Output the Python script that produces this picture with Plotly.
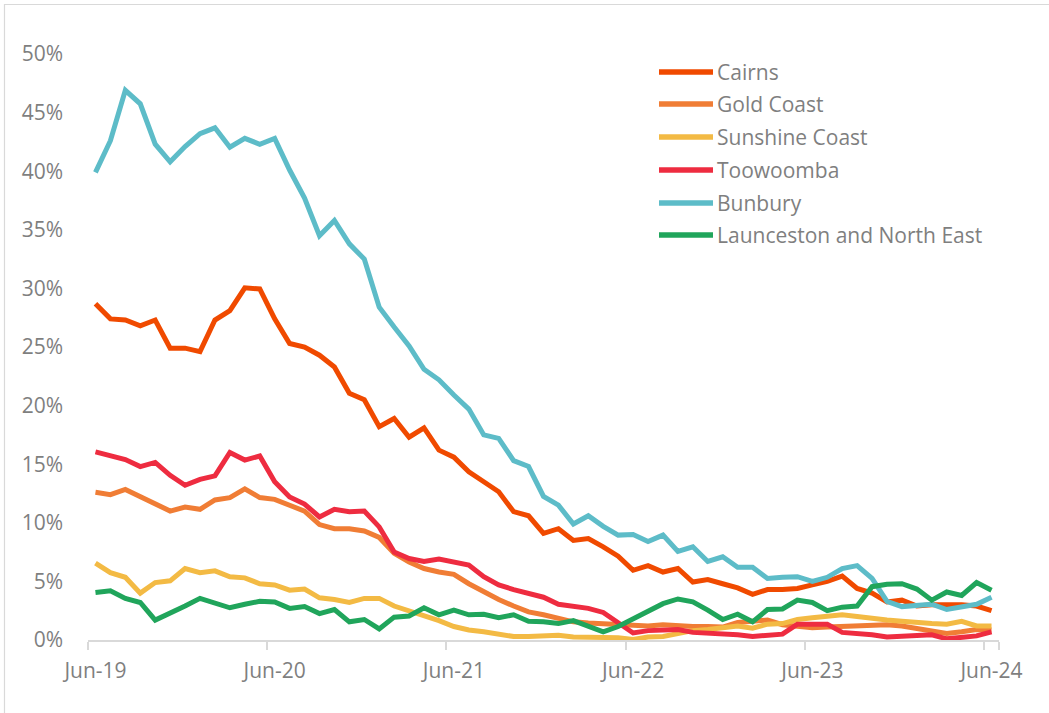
import pandas as pd
import plotly.graph_objects as go

# Monthly periods, Jun-2019 to Jun-2024
months = pd.date_range("2019-06-01", "2024-06-01", freq="MS").strftime("%b-%y").tolist()
tick_labels = ["Jun-19", "Jun-20", "Jun-21", "Jun-22", "Jun-23", "Jun-24"]
y_ticks = [0, 5, 10, 15, 20, 25, 30, 35, 40, 45, 50]

cairns = [28.7, 27.4, 27.3, 26.8, 27.3, 24.9, 24.9, 24.6, 27.3, 28.1,
          30.05, 29.95, 27.4, 25.3, 25.0, 24.3, 23.3, 21.05, 20.5, 18.2,
          18.9, 17.3, 18.1, 16.2, 15.6, 14.35, 13.5, 12.65, 10.95, 10.6,
          9.1, 9.5, 8.5, 8.65, 7.95, 7.15, 5.95, 6.35, 5.8, 6.1,
          4.95, 5.15, 4.8, 4.45, 3.9, 4.3, 4.3, 4.4, 4.7, 5.0,
          5.45, 4.4, 4.0, 3.25, 3.4, 2.9, 3.0, 3.05, 3.0, 2.9, 2.5]

gold_coast = [12.6, 12.4, 12.85, 12.2, 11.65, 11.0, 11.35, 11.15, 11.95, 12.15,
              12.9, 12.15, 12.0, 11.5, 11.0, 9.85, 9.5, 9.5, 9.3, 8.75,
              7.4, 6.65, 6.1, 5.8, 5.6, 4.8, 4.1, 3.45, 2.9, 2.4,
              2.15, 1.9, 1.55, 1.45, 1.4, 1.35, 1.3, 1.2, 1.3, 1.2,
              1.15, 1.15, 1.1, 1.5, 1.55, 1.7, 1.3, 1.15, 1.05, 1.1,
              1.15, 1.2, 1.2, 1.3, 1.2, 1.0, 0.75, 0.55, 0.7, 0.9, 0.85]

sunshine_coast = [6.55, 5.75, 5.35, 4.0, 4.9, 5.05, 6.1, 5.75, 5.9, 5.4,
                  5.3, 4.8, 4.7, 4.25, 4.35, 3.6, 3.45, 3.2, 3.55, 3.55,
                  2.9, 2.5, 2.0, 1.65, 1.15, 0.85, 0.7, 0.55, 0.3, 0.3,
                  0.35, 0.4, 0.25, 0.25, 0.15, 0.2, 0.05, 0.25, 0.3, 0.55,
                  0.8, 0.9, 1.0, 1.2, 1.0, 1.35, 1.4, 1.75, 1.9, 2.0,
                  2.15, 2.0, 1.8, 1.7, 1.6, 1.45, 1.4, 1.35, 1.6, 1.2, 1.2]

toowoomba = [16.05, 15.7, 15.4, 14.8, 15.15, 14.05, 13.2, 13.7, 14.0, 16.0,
             15.35, 15.7, 13.5, 12.2, 11.6, 10.5, 11.15, 10.95, 11.0, 9.65,
             7.5, 6.95, 6.7, 6.9, 6.65, 6.4, 5.4, 4.7, 4.3, 4.0,
             3.65, 3.05, 2.85, 2.7, 2.35, 1.5, 0.6, 0.8, 0.85, 0.9,
             0.65, 0.6, 0.5, 0.45, 0.3, 0.4, 0.5, 1.35, 1.35, 1.35,
             0.65, 0.6, 0.45, 0.25, 0.35, 0.4, 0.45, 0.1, 0.2, 0.35, 0.7]

bunbury = [39.9, 42.6, 46.9, 45.75, 42.3, 40.8, 42.1, 43.2, 43.7, 42.05,
           42.8, 42.3, 42.8, 40.1, 37.7, 34.5, 35.8, 33.8, 32.5, 28.4,
           26.7, 25.1, 23.1, 22.2, 20.9, 19.7, 17.5, 17.2, 15.3, 14.8,
           12.25, 11.5, 9.9, 10.6, 9.7, 8.95, 9.0, 8.4, 8.95, 7.55,
           7.95, 6.7, 7.1, 6.2, 6.2, 5.25, 5.35, 5.4, 5.0, 5.35,
           6.1, 6.35, 5.25, 3.3, 2.85, 3.0, 3.05, 2.6, 2.8, 3.05, 3.65]

launceston = [4.05, 4.2, 3.55, 3.2, 1.7, 2.25, 2.9, 3.55, 3.2, 2.75,
              3.05, 3.3, 3.25, 2.7, 2.85, 2.25, 2.6, 1.55, 1.75, 0.95,
              1.95, 2.05, 2.75, 2.15, 2.55, 2.15, 2.2, 1.9, 2.15, 1.6,
              1.55, 1.4, 1.65, 1.15, 0.7, 1.15, 1.8, 2.5, 3.1, 3.5,
              3.25, 2.55, 1.75, 2.2, 1.55, 2.6, 2.65, 3.4, 3.2, 2.5,
              2.8, 2.9, 4.55, 4.75, 4.8, 4.35, 3.4, 4.1, 3.8, 4.9, 4.25]

series = [
    ("Cairns", cairns, "#F04A00"),
    ("Gold Coast", gold_coast, "#F07D35"),
    ("Sunshine Coast", sunshine_coast, "#F3BA44"),
    ("Toowoomba", toowoomba, "#EE2C40"),
    ("Bunbury", bunbury, "#5DBCC8"),
    ("Launceston and North East", launceston, "#20A55B"),
]

W, H = 1049, 713
ML, MR, MT, MB = 88, 50, 54, 73
FONT = "Open Sans, Lato, sans-serif"
FS = 21
TEXT = "#7f7f7f"
GRID = "#d9d9d9"


def px_x(px):
    return (px - ML) / (W - ML - MR)


def px_y(py):
    return (H - MB - py) / (H - MT - MB)


fig = go.Figure()
for name, vals, color in series:
    fig.add_trace(go.Scatter(
        x=months, y=vals, name=name, mode="lines",
        line=dict(color=color, width=5),
        showlegend=False,
    ))

# Legend drawn as line samples with text labels
legend_rows = [72, 104, 137, 170, 203, 235]
shapes = []
annotations = []
for (name, _, color), row in zip(series, legend_rows):
    shapes.append(dict(type="line", xref="paper", yref="paper",
                       x0=px_x(659), x1=px_x(713), y0=px_y(row), y1=px_y(row),
                       line=dict(color=color, width=5.5)))
    annotations.append(dict(text=name, xref="paper", yref="paper",
                            x=px_x(715), y=px_y(row), xanchor="left", yanchor="middle",
                            showarrow=False, font=dict(family=FONT, size=FS, color=TEXT)))

# Outer chart border
shapes.append(dict(type="rect", xref="paper", yref="paper", layer="below",
                   x0=px_x(4.5), x1=px_x(W + 10), y0=px_y(H + 10), y1=px_y(4.5),
                   line=dict(color=GRID, width=1.2), fillcolor="rgba(0,0,0,0)"))

fig.update_layout(
    width=W, height=H,
    margin=dict(l=ML, r=MR, t=MT, b=MB),
    paper_bgcolor="white", plot_bgcolor="white",
    shapes=shapes, annotations=annotations,
    font=dict(family=FONT, size=FS, color=TEXT),
)

fig.update_xaxes(
    type="category", categoryorder="array", categoryarray=months,
    tickmode="array", tickvals=tick_labels, ticktext=tick_labels, tickangle=0,
    tickson="boundaries", ticks="outside", ticklen=8, tickwidth=2, tickcolor=GRID,
    showline=True, linecolor=GRID, linewidth=2,
    showgrid=False, zeroline=False, ticklabelstandoff=11,
    tickfont=dict(family=FONT, size=FS, color=TEXT),
    range=[-0.5, len(months) - 0.5],
)

fig.update_yaxes(
    range=[0, 50], tickmode="array", tickvals=y_ticks,
    ticktext=[f"{v}%" for v in y_ticks],
    showgrid=False, zeroline=False, showline=False,
    ticks="", ticklabelstandoff=24,
    tickfont=dict(family=FONT, size=FS, color=TEXT),
)

fig.write_html("out.html")
